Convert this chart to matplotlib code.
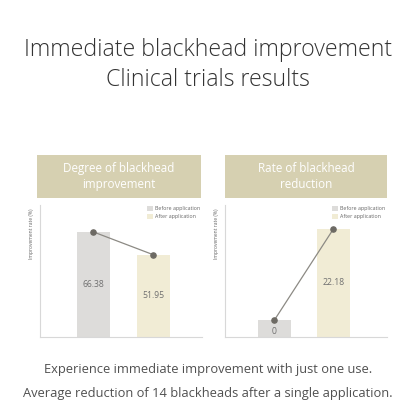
import matplotlib
matplotlib.use('Agg')
import matplotlib.pyplot as plt
from matplotlib.patches import Rectangle, Patch

## Datos
title_lines = ['Immediate blackhead improvement', 'Clinical trials results']
footer_lines = ['Experience immediate improvement with just one use.',
                'Average reduction of 14 blackheads after a single application.']
series_names = ['Before application', 'After application']

left_header = 'Degree of blackhead\nimprovement'
left_values = [66.38, 51.95]
left_ymax = 83.4

right_header = 'Rate of blackhead\nreduction'
right_values = [0, 22.18]
right_ymax = 27.1
right_min_bar = 3.5   # la barra de 0 se dibuja con una altura minima

ylabel = 'Improvement rate (%)'

## Estilos
W = H = 416
bar_colors = ['#dddcda', '#f1ecd5']
header_color = '#d6d0b1'
text_color = '#333333'
value_color = '#707070'
axis_color = '#d8d8d8'
plt.rcParams['font.family'] = ['Open Sans', 'DejaVu Sans']


def px_box(x0, y0, x1, y1):
    # caja en pixeles (origen arriba a la izquierda) -> coords de figura
    return [x0 / W, 1 - y1 / H, (x1 - x0) / W, (y1 - y0) / H]


fig = plt.figure(figsize=(W / 100, H / 100), dpi=100)
fig.patch.set_facecolor('white')

# Titulo
fig.text(0.5, 1 - 50 / H, title_lines[0], ha='center', va='center',
         fontsize=16.7, color=text_color, fontweight='light')
fig.text(0.5, 1 - 80 / H, title_lines[1], ha='center', va='center',
         fontsize=16.7, color=text_color, fontweight='light')

# Pie
fig.text(0.5, 1 - 370 / H, footer_lines[0], ha='center', va='center',
         fontsize=9.3, color='#505050')
fig.text(0.5, 1 - 394 / H, footer_lines[1], ha='center', va='center',
         fontsize=9.3, color='#505050')


def panel(box_px, header_px, header, values, ymax, xlim, min_bar=0.0):
    # cabecera
    hx0, hy0, hx1, hy1 = header_px
    fig.patches.append(Rectangle((hx0 / W, 1 - hy1 / H), (hx1 - hx0) / W, (hy1 - hy0) / H,
                                 transform=fig.transFigure, facecolor=header_color,
                                 edgecolor='none'))
    fig.text((hx0 + hx1) / 2 / W, 1 - (hy0 + hy1) / 2 / H, header, ha='center',
             va='center', fontsize=8.4, color='white', linespacing=1.25)

    ax = fig.add_axes(px_box(*box_px))
    xs = [0, 1]
    heights = [max(v, min_bar) for v in values]
    ax.bar(xs, heights, width=0.55, color=bar_colors, zorder=1)
    ax.plot(xs, heights, color='#8c8a84', lw=0.9, zorder=2)
    ax.scatter(xs, heights, s=14, color='#6d6a64', zorder=3)
    for x, v, h in zip(xs, values, heights):
        ypos = h / 2 if v > 0 else h * 0.3
        ax.text(x, ypos, f'{v:g}', ha='center', va='center', fontsize=6.2,
                color=value_color)
    ax.set_xlim(*xlim)
    ax.set_ylim(0, ymax)
    ax.set_xticks([])
    ax.set_yticks([])
    for s in ['top', 'right']:
        ax.spines[s].set_visible(False)
    for s in ['left', 'bottom']:
        ax.spines[s].set_color(axis_color)
        ax.spines[s].set_linewidth(0.8)
    ax.set_ylabel(ylabel, fontsize=3.6, color='#666666', labelpad=2)
    ax.yaxis.set_label_coords(-0.035, 0.78)
    handles = [Patch(facecolor=c, edgecolor='none') for c in bar_colors]
    ax.legend(handles, series_names, loc='upper right', fontsize=3.8, frameon=False,
              handlelength=1.0, handleheight=1.0, handletextpad=0.4,
              borderaxespad=0.0, labelspacing=0.6, labelcolor='#666666',
              bbox_to_anchor=(1.0, 1.01))
    return ax


panel((40, 205, 202, 337), (37, 155, 201, 198), left_header, left_values,
      left_ymax, (-0.89, 1.81))
panel((225, 205, 387, 337), (225, 155, 387, 198), right_header, right_values,
      right_ymax, (-0.84, 1.91), min_bar=right_min_bar)

fig.savefig('out.png', dpi=100, facecolor='white')
